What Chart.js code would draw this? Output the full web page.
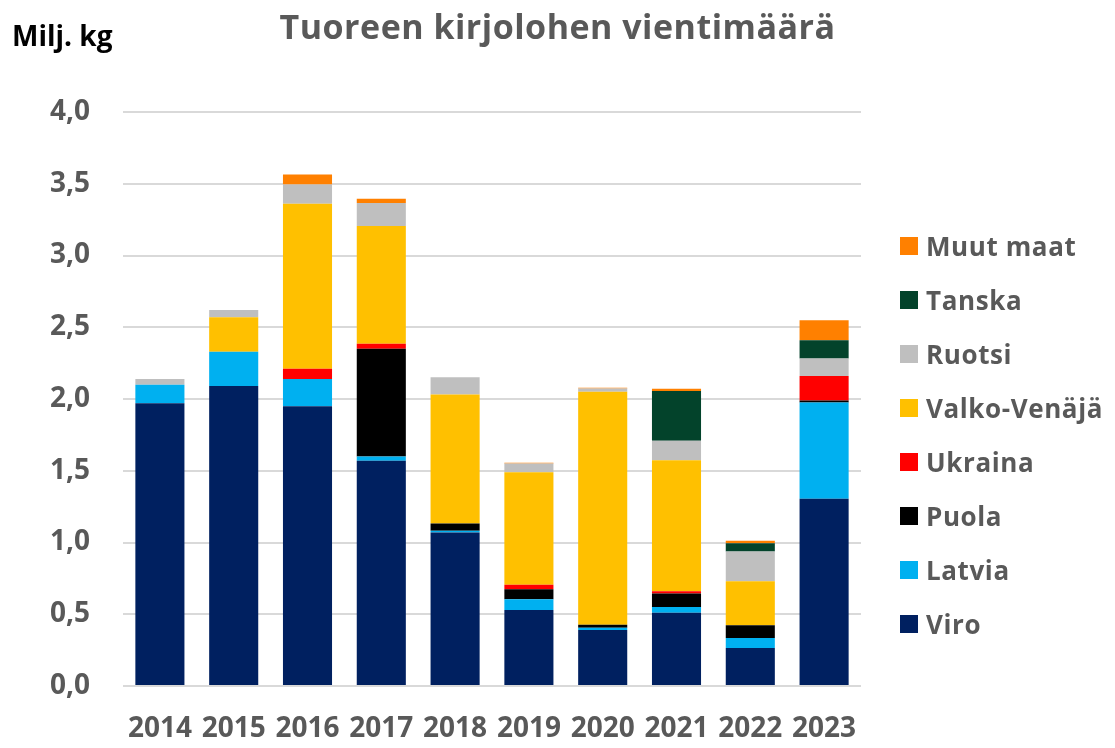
<!DOCTYPE html>
<html>
<head>
<meta charset="utf-8">
<script src="https://cdn.jsdelivr.net/npm/chart.js@4"></script>
<style>
  html, body { margin: 0; padding: 0; background: #ffffff; }
  #wrap { position: relative; width: 1115px; height: 748px; overflow: hidden; }
  #c { position: absolute; left: 0; top: 0; }
  .txt { position: absolute; font-family: "Open Sans", "Noto Sans", sans-serif; font-weight: 700; white-space: nowrap; }
  #title { left: 0; width: 1115px; text-align: center; top: 3px; font-size: 34px; letter-spacing: 0.5px; color: #595959; line-height: 46px; }
  #unit { left: 12px; top: 16px; font-size: 28px; color: #000000; line-height: 38px; }
  #legend { position: absolute; left: 0; top: 0; }
  .li { position: absolute; left: 900px; height: 30px; display: flex; align-items: center; font-family: "Open Sans", "Noto Sans", sans-serif; font-weight: 700; font-size: 26px; letter-spacing: 0.6px; color: #595959; white-space: nowrap; }
  .lb { width: 18px; height: 18px; margin-right: 8px; flex: none; }
</style>
</head>
<body>
<div id="wrap">
  <canvas id="c" width="1115" height="748"></canvas>
  <div id="title" class="txt">Tuoreen kirjolohen vientimäärä</div>
  <div id="unit" class="txt">Milj. kg</div>
  <div id="legend"></div>
</div>
<script>
// ---- data ----
const years = ['2014', '2015', '2016', '2017', '2018', '2019', '2020', '2021', '2022', '2023'];
const viro    = [1.97, 2.09, 1.95, 1.57, 1.07, 0.53, 0.39, 0.51, 0.265, 1.305];
const latvia  = [0.13, 0.24, 0.19, 0.03, 0.012, 0.075, 0.016, 0.04, 0.07, 0.67];
const puola   = [0, 0, 0, 0.75, 0.05, 0.07, 0.02, 0.095, 0.088, 0.014];
const ukraina = [0, 0, 0.07, 0.035, 0, 0.03, 0, 0.016, 0, 0.172];
const valko   = [0, 0.24, 1.15, 0.82, 0.90, 0.785, 1.625, 0.913, 0.307, 0];
const ruotsi  = [0.04, 0.05, 0.135, 0.16, 0.12, 0.06, 0.023, 0.135, 0.207, 0.121];
const tanska  = [0, 0, 0, 0, 0, 0, 0, 0.346, 0.058, 0.128];
const muut    = [0, 0, 0.07, 0.03, 0, 0.005, 0.005, 0.016, 0.018, 0.139];
const seriesNames = ['Viro', 'Latvia', 'Puola', 'Ukraina', 'Valko-Venäjä', 'Ruotsi', 'Tanska', 'Muut maat'];
const yTickLabels = ['0,0', '0,5', '1,0', '1,5', '2,0', '2,5', '3,0', '3,5', '4,0'];

const colors = ['#002060', '#00B0F0', '#000000', '#FF0000', '#FFC000', '#BFBFBF', '#03432B', '#FF8000'];
const seriesValues = [viro, latvia, puola, ukraina, valko, ruotsi, tanska, muut];

const datasets = seriesNames.map((name, i) => ({
  label: name,
  data: seriesValues[i],
  backgroundColor: colors[i],
  borderWidth: 0,
  categoryPercentage: 1.0,
  barPercentage: 0.665
}));

const htmlLegend = {
  id: 'htmlLegend',
  afterUpdate(chart) {
    const box = document.getElementById('legend');
    box.innerHTML = '';
    const items = chart.options.plugins.legend.labels.generateLabels(chart).slice().reverse();
    items.forEach((item, i) => {
      const row = document.createElement('div');
      row.className = 'li';
      row.style.top = (246 + i * 54 - 15) + 'px';
      const sw = document.createElement('span');
      sw.className = 'lb';
      sw.style.background = item.fillStyle;
      const t = document.createElement('span');
      t.textContent = item.text;
      row.appendChild(sw);
      row.appendChild(t);
      box.appendChild(row);
    });
  }
};

const tickFont = { family: '"Open Sans", "Noto Sans", sans-serif', weight: 'bold', size: 28 };

new Chart(document.getElementById('c'), {
  type: 'bar',
  data: { labels: years, datasets },
  plugins: [htmlLegend],
  options: {
    responsive: false,
    animation: false,
    layout: { padding: { left: 45, right: 254, top: 112, bottom: 2 } },
    plugins: {
      legend: { display: false },
      title: { display: false },
      tooltip: { enabled: false }
    },
    scales: {
      x: {
        stacked: true,
        afterFit(scale) { scale.height = 60; },
        grid: { display: false, drawTicks: false },
        border: { display: false },
        ticks: { font: tickFont, color: '#595959', padding: 26, maxRotation: 0, autoSkip: false }
      },
      y: {
        stacked: true,
        min: 0,
        max: 4,
        afterFit(scale) { scale.width = 78; },
        grid: { color: '#D9D9D9', lineWidth: 2, drawTicks: false },
        border: { display: false },
        ticks: {
          stepSize: 0.5,
          font: tickFont,
          color: '#595959',
          padding: 33,
          callback: (v, idx) => yTickLabels[idx]
        }
      }
    }
  }
});
</script>
</body>
</html>
